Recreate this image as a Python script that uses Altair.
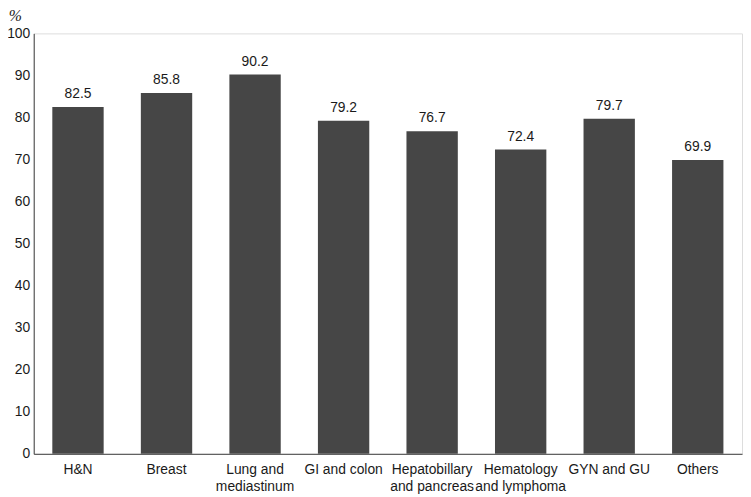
import altair as alt
import pandas as pd

categories = ["H&N", "Breast", "Lung and\nmediastinum", "GI and colon",
              "Hepatobillary\nand pancreas", "Hematology\nand lymphoma",
              "GYN and GU", "Others"]
values = [82.5, 85.8, 90.2, 79.2, 76.7, 72.4, 79.7, 69.9]
y_ticks = [0, 10, 20, 30, 40, 50, 60, 70, 80, 90, 100]

df = pd.DataFrame({"cat": categories, "val": values,
                   "lbl": [f"{v:.1f}" for v in values]})

FONT = "Liberation Sans"
TXT = "#1a1a1a"

x = alt.X("cat:N", sort=categories,
          scale=alt.Scale(paddingInner=0.42, paddingOuter=0.21),
          axis=alt.Axis(title=None, labelAngle=0, ticks=False, labelPadding=9,
                        labelFont=FONT, labelFontSize=14, labelColor=TXT,
                        labelLimit=0, labelLineHeight=17,
                        labelExpr="split(datum.label, '\\n')",
                        domainColor="#404040", domainWidth=1))
y = alt.Y("val:Q", scale=alt.Scale(domain=[0, 100], nice=False),
          axis=alt.Axis(values=y_ticks, ticks=False, grid=False, labelPadding=4,
                        labelFont=FONT, labelFontSize=14, labelColor=TXT,
                        domainColor="#404040", domainWidth=1,
                        title="%", titleAngle=0, titleFont="Liberation Serif",
                        titleFontStyle="italic", titleFontWeight="normal",
                        titleFontSize=16, titleColor=TXT, titleAlign="center",
                        titleBaseline="middle", titleX=-19, titleY=-18))

bars = alt.Chart(df).mark_bar(color="#464646").encode(x=x, y=y)
labels = alt.Chart(df).mark_text(baseline="bottom", dy=-6, font=FONT,
                                 fontSize=14, color=TXT).encode(
    x=alt.X("cat:N", sort=categories), y="val:Q", text="lbl:N")

chart = (bars + labels).properties(
    width=716, height=425,
    autosize=alt.AutoSizeParams(type="none"),
    padding={"left": 26, "top": 23, "right": 1, "bottom": 42},
).configure_view(stroke=None).configure(background="white")

chart.save("out.html", embed_options={"renderer": "svg", "actions": False})
